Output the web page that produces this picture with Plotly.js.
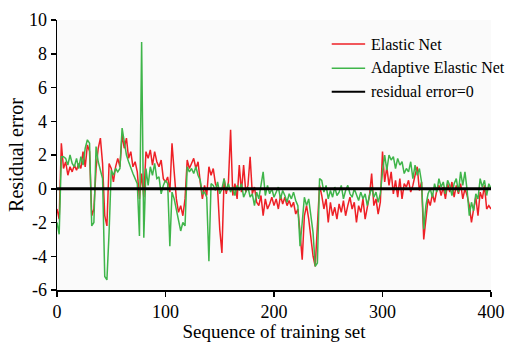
<!DOCTYPE html>
<html>
<head>
<meta charset="utf-8">
<script src="https://cdn.plot.ly/plotly-3.0.1.min.js"></script>
<style>html,body{margin:0;padding:0;background:#fff;}#chart{width:506px;height:342px;}</style>
</head>
<body>
<div id="chart"></div>
<script>
// sequence index (every 2nd sample of the training set)
const seqIndex = [0,2,4,6,8,10,12,14,16,18,20,22,24,26,28,30,32,34,36,38,40,42,44,46,48,50,52,54,56,58,60,62,64,66,68,70,72,74,76,78,80,82,84,86,88,90,92,94,96,98,100,102,104,106,108,110,112,114,116,118,120,122,124,126,128,130,132,134,136,138,140,142,144,146,148,150,152,154,156,158,160,162,164,166,168,170,172,174,176,178,180,182,184,186,188,190,192,194,196,198,200,202,204,206,208,210,212,214,216,218,220,222,224,226,228,230,232,234,236,238,240,242,244,246,248,250,252,254,256,258,260,262,264,266,268,270,272,274,276,278,280,282,284,286,288,290,292,294,296,298,300,302,304,306,308,310,312,314,316,318,320,322,324,326,328,330,332,334,336,338,340,342,344,346,348,350,352,354,356,358,360,362,364,366,368,370,372,374,376,378,380,382,384,386,388,390,392,394,396,398,400];

const elasticNet = [-1.2,-1.8,2.7,1.2,1.6,0.8,1.3,1.0,1.4,1.1,1.5,1.2,2.2,1.3,2.6,2.2,-1.6,-1.2,1.2,2.4,3.0,1.5,-1.6,-2.2,1.5,1.2,0.4,1.3,1.8,1.3,3.2,2.4,3.0,1.8,2.2,1.3,1.6,1.0,-0.6,0.9,-0.5,2.2,1.8,2.3,1.4,2.2,1.6,1.3,1.7,0.6,0.4,0.7,-0.2,2.7,1.0,-0.6,-1.4,-1.0,-1.6,-0.6,1.7,1.2,1.5,1.8,1.2,1.6,0.4,-0.6,0.2,-0.4,1.3,0.8,1.2,0.3,0.0,-2.4,-3.8,0.6,-0.3,0.4,3.5,-0.4,0.3,-0.6,1.4,-0.2,1.4,-0.2,0.2,1.9,-0.3,0.1,-0.8,-1.0,-0.4,-1.6,-0.6,-1.2,-0.9,-0.5,-1.0,-0.6,-1.2,-0.4,-0.9,-0.5,-1.0,-0.7,-1.1,-0.8,-1.5,-1.2,-2.6,-4.2,-1.6,-1.0,-1.8,-2.8,-4.0,-4.6,-2.5,0.2,-0.4,-1.2,-0.6,-2.0,-0.8,-1.6,-1.1,-1.8,-0.9,-1.4,-0.7,-1.6,-1.0,-0.5,-1.2,-0.8,-2.0,-1.0,-1.4,-0.6,-1.8,-1.1,-0.4,0.9,-1.0,-0.6,-1.5,-0.8,2.2,0.4,1.3,0.2,1.0,-0.3,0.5,-0.5,0.6,-0.6,0.3,0.1,0.5,-0.2,0.2,0.8,1.3,-0.1,0.4,-3.0,-1.6,-0.6,-1.0,-0.3,-0.8,-0.1,0.2,-0.4,0.1,-0.6,0.3,-0.2,0.4,-0.5,0.2,-0.3,0.3,-0.6,0.0,-0.4,-1.0,-2.0,-1.2,-0.5,-1.6,-0.2,-0.6,0.2,-1.2,-1.0,-1.2];

const adaptiveElasticNet = [-2.0,-2.7,1.9,1.9,1.8,1.4,2.0,1.5,1.3,1.8,1.2,1.9,1.4,2.4,2.9,2.7,-2.2,-2.0,2.5,1.6,1.1,0.6,-5.2,-5.4,-2.6,1.1,0.8,1.2,1.0,1.2,3.6,2.8,2.0,1.6,1.2,0.9,0.6,0.3,-2.8,8.7,-2.9,1.2,0.2,1.3,0.8,1.5,0.6,0.7,-0.3,0.2,0.5,0.3,-3.4,-0.2,-0.6,-1.3,-1.8,-2.5,-2.0,-2.2,1.3,1.0,1.2,0.9,1.3,0.8,0.5,-0.3,-0.2,-0.5,-4.3,0.3,0.2,-0.1,0.4,-0.3,0.0,0.6,-0.1,0.3,-0.2,0.1,-0.4,0.2,-0.1,0.3,-0.5,-0.2,0.1,-0.5,-0.3,-1.0,-0.2,-0.6,0.3,1.0,-0.4,0.2,-0.3,0.0,-0.5,-0.2,0.1,-0.6,-0.1,-0.4,-0.8,-0.3,-0.6,-0.2,-0.7,-1.0,-3.4,-2.0,-0.5,-1.0,-0.6,-1.6,-2.6,-4.6,-4.4,0.6,0.5,-0.2,0.2,-0.6,-0.1,-0.5,0.1,-0.4,-0.2,0.2,-0.6,-0.1,0.2,-0.3,-0.5,0.0,-0.4,-0.7,-0.2,-0.6,-0.3,-1.0,-0.4,0.1,-0.5,-0.2,-0.8,-0.3,1.0,2.0,1.1,2.0,1.7,1.9,1.2,1.8,1.4,1.6,0.9,1.2,1.0,1.6,0.6,1.4,0.8,1.2,0.4,-2.4,-1.0,-0.3,0.0,-0.5,0.3,-0.2,0.6,0.1,0.4,-0.3,0.5,0.2,-0.4,0.3,0.6,-0.2,1.0,0.2,1.0,-0.1,-1.6,-0.8,-1.3,-0.3,-0.6,0.6,0.1,0.5,-0.4,0.3,0.0];

const zeroLineX = [0, 400];
const zeroLineY = [0, 0];

const seriesNames = ["Elastic Net", "Adaptive Elastic Net", "residual error=0"];
const seriesColors = ["#ee2026", "#3fb54a", "#000000"];
const xTicks = [0, 100, 200, 300, 400];
const yTicks = [-6, -4, -2, 0, 2, 4, 6, 8, 10];

const serif = "'Liberation Serif', 'Times New Roman', serif";

const traces = [
  {x: seqIndex, y: elasticNet, name: seriesNames[0], type: "scatter", mode: "lines",
   line: {color: seriesColors[0], width: 1.5}},
  {x: seqIndex, y: adaptiveElasticNet, name: seriesNames[1], type: "scatter", mode: "lines",
   line: {color: seriesColors[1], width: 1.5}},
  {x: zeroLineX, y: zeroLineY, name: seriesNames[2], type: "scatter", mode: "lines",
   line: {color: seriesColors[2], width: 3}}
];

// hand-placed legend (drawn inside the figure, as in the reference)
const legendY = [0.911, 0.821, 0.734];
const legendShapes = seriesNames.map((n, i) => ({
  type: "line", xref: "paper", yref: "paper",
  x0: 0.633, x1: 0.71, y0: legendY[i], y1: legendY[i],
  line: {color: seriesColors[i], width: i === 2 ? 2 : 1.5}
}));
const legendText = seriesNames.map((n, i) => ({
  xref: "paper", yref: "paper", x: 0.72, y: legendY[i],
  xanchor: "left", yanchor: "middle", showarrow: false, text: n,
  font: {family: serif, size: 16, color: "#000"}
}));

const layout = {
  width: 506, height: 342,
  margin: {l: 57, r: 15, t: 20, b: 52},
  paper_bgcolor: "#ffffff",
  plot_bgcolor: "#fafafa",
  font: {family: serif, color: "#000", size: 18},
  showlegend: false,
  shapes: legendShapes,
  annotations: legendText,
  xaxis: {
    range: [0, 400], tickvals: xTicks, ticktext: xTicks.map(String),
    showgrid: false, zeroline: false, showline: true, linecolor: "#000", linewidth: 1.5,
    ticks: "outside", ticklen: 5, tickcolor: "#000", tickwidth: 1.5, automargin: false,
    tickfont: {family: serif, size: 18, color: "#000"},
    title: {text: "Sequence of training set", font: {family: serif, size: 19, color: "#000"}, standoff: 7}
  },
  yaxis: {
    range: [-6, 10], tickvals: yTicks, ticktext: yTicks.map(String),
    showgrid: false, zeroline: false, showline: true, linecolor: "#000", linewidth: 1.5,
    ticks: "outside", ticklen: 5, tickcolor: "#000", tickwidth: 1.5, automargin: false,
    tickfont: {family: serif, size: 18, color: "#000"},
    title: {text: "Residual error", font: {family: serif, size: 20, color: "#000"}, standoff: 0}
  }
};

Plotly.newPlot("chart", traces, layout, {displayModeBar: false, staticPlot: true});
</script>
</body>
</html>
